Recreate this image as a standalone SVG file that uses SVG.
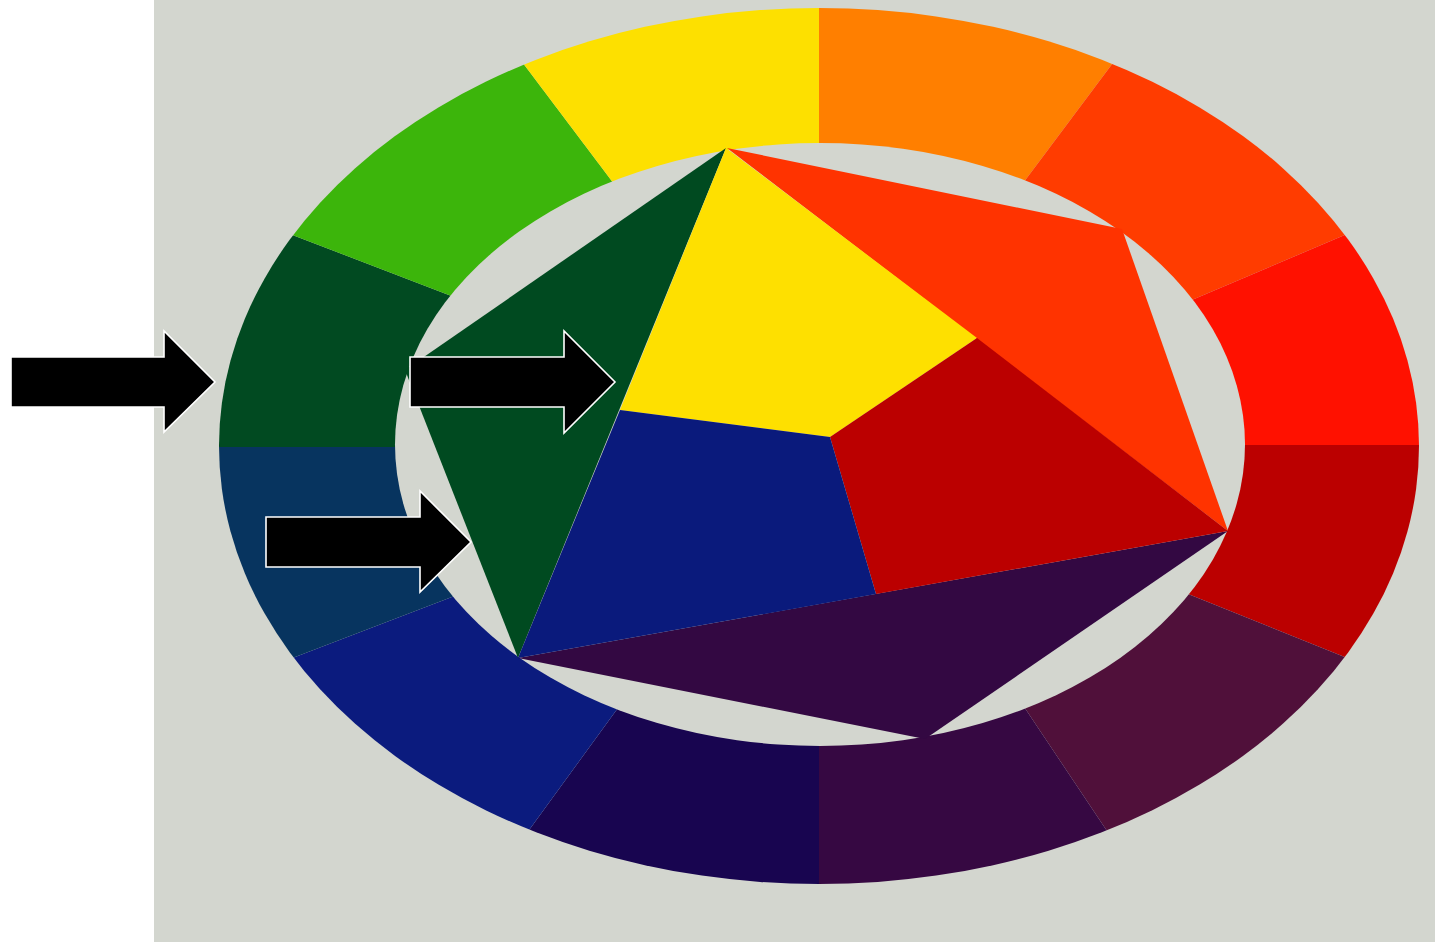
<svg xmlns="http://www.w3.org/2000/svg" width="1435" height="942" viewBox="0 0 1435 942">
<style>
.bg{fill:#d3d6cf}
.arrow{fill:#000;stroke:#fff;stroke-width:1.6;stroke-linejoin:miter}
</style>
<defs>
<clipPath id="outerClip"><ellipse cx="819" cy="446" rx="600" ry="438"/></clipPath>
</defs>
<rect x="0" y="0" width="1435" height="942" fill="#fff"/>
<rect class="bg" x="154" y="0" width="1281" height="942"/>
<g id="ring" clip-path="url(#outerClip)">
<polygon fill="#ff7f00" points="819,224 819,-195 1240,-107 976,246"/>
<polygon fill="#ff3c00" points="976,246 1240,-107 1552,147 1114,333"/>
<polygon fill="#ff1100" points="1114,333 1552,147 1680,445 1141,445"/>
<polygon fill="#bb0000" points="1141,445 1680,445 1551,740 1111,563"/>
<polygon fill="#50103a" points="1111,563 1551,740 1218,997 982,644"/>
<polygon fill="#360842" points="982,644 1218,997 819,1091 819,663"/>
<polygon fill="#180550" points="819,663 819,1091 406,999 666,642"/>
<polygon fill="#0b1b7e" points="666,642 406,999 70,743 541,563"/>
<polygon fill="#07345f" points="541,563 70,743 -47,447 502,447"/>
<polygon fill="#014a21" points="502,447 -47,447 76,152 535,328"/>
<polygon fill="#3cb50b" points="535,328 76,152 400,-100 660,245"/>
<polygon fill="#fde000" points="660,245 400,-100 819,-195 819,224"/>
</g>
<ellipse id="inner" class="bg" cx="820" cy="444.5" rx="425" ry="301.5"/>
<g id="star">
<polygon id="orange-tri" fill="#ff3300" points="727,148 1122,229 1228,531"/>
<polygon id="green-tri" fill="#004a20" points="726,148 405,370 518,658"/>
<polygon id="violet-tri" fill="#330842" points="518,658 1228,531 925,739"/>
<polygon id="yellow" fill="#fee000" points="726,148 977,338 830,437 620,410"/>
<polygon id="red" fill="#bb0000" points="977,338 1228,531 876,594 830,437"/>
<polygon id="blue" fill="#0a1a7c" points="620,410 830,437 876,594 518,658"/>
</g>
<g id="arrows">
<path id="arrow1" class="arrow" d="M11,357 H164 V331 L215,382 L164,432 V407 H11 Z"/>
<path id="arrow2" class="arrow" d="M410,357 H564 V331 L615,382 L564,433 V407 H410 Z"/>
<path id="arrow3" class="arrow" d="M266,517 H420 V491 L471,542 L420,592 V567 H266 Z"/>
</g>
</svg>
